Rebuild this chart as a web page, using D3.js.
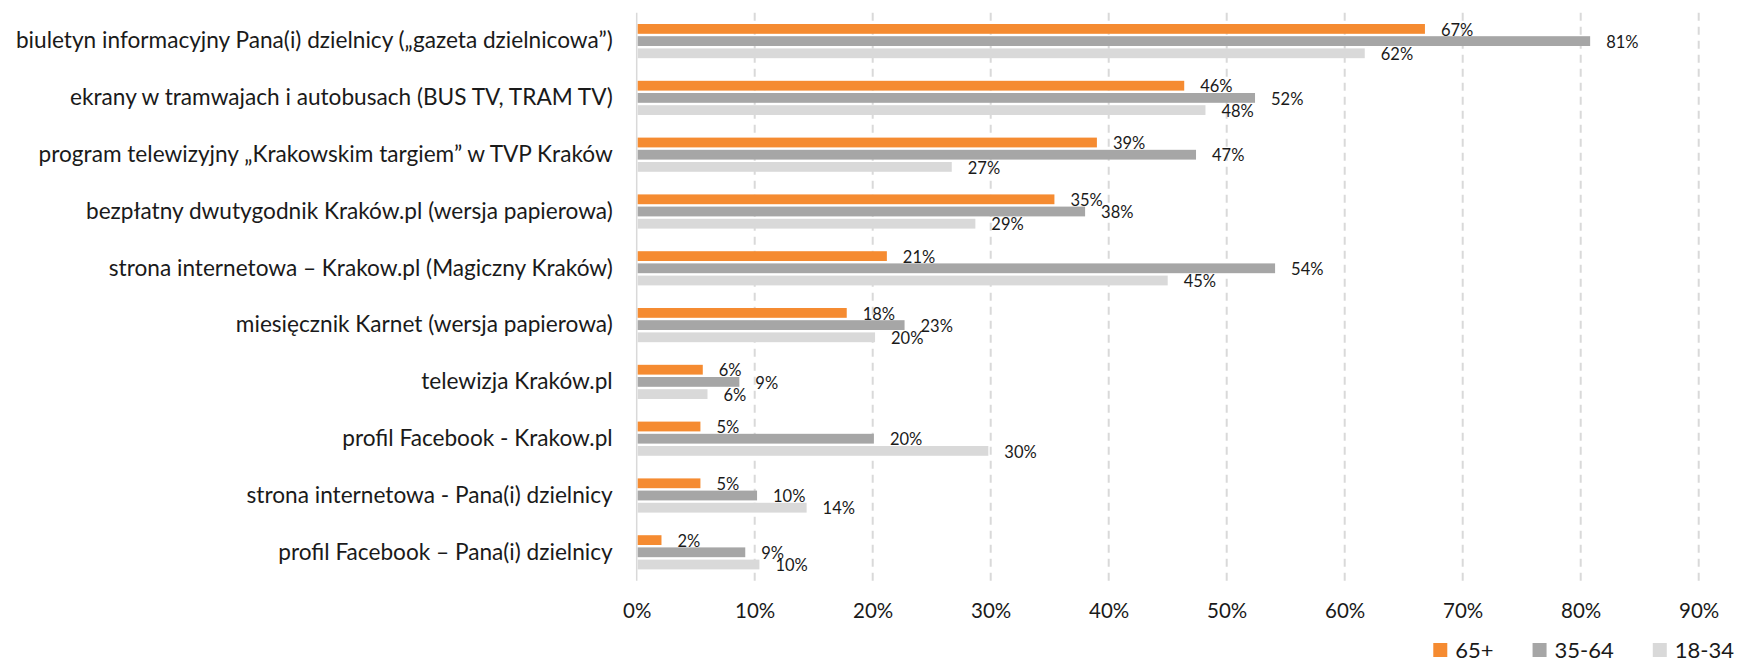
<!DOCTYPE html>
<html>
<head>
<meta charset="utf-8">
<script src="https://cdn.jsdelivr.net/npm/d3@7"></script>
<style>
  html, body { margin: 0; padding: 0; background: #ffffff; }
  svg { display: block; }
  text { font-family: Lato, "Open Sans", "Noto Sans", sans-serif; fill: #1a1a1a; }
</style>
</head>
<body>
<svg id="chart" width="1742" height="667"></svg>
<script>
// ---- data ----
const categories = [
  "biuletyn informacyjny Pana(i) dzielnicy („gazeta dzielnicowa”)",
  "ekrany w tramwajach i autobusach (BUS TV, TRAM TV)",
  "program telewizyjny „Krakowskim targiem” w TVP Kraków",
  "bezpłatny dwutygodnik Kraków.pl (wersja papierowa)",
  "strona internetowa – Krakow.pl (Magiczny Kraków)",
  "miesięcznik Karnet (wersja papierowa)",
  "telewizja Kraków.pl",
  "profil Facebook - Krakow.pl",
  "strona internetowa - Pana(i) dzielnicy",
  "profil Facebook – Pana(i) dzielnicy"
];
const seriesNames = ["65+", "35-64", "18-34"];
const values65plus = [66.8, 46.4, 39.0, 35.4, 21.2, 17.8, 5.6, 5.4, 5.4, 2.1];
const values35to64 = [80.8, 52.4, 47.4, 38.0, 54.1, 22.7, 8.7, 20.1, 10.2, 9.2];
const values18to34 = [61.7, 48.2, 26.7, 28.7, 45.0, 20.2, 6.0, 29.8, 14.4, 10.4];
const tickValues = [0, 10, 20, 30, 40, 50, 60, 70, 80, 90];
const colors = ["#F58B31", "#A6A6A6", "#D9D9D9"];

const seriesValues = [values65plus, values35to64, values18to34];

// ---- layout ----
const svg = d3.select("#chart");
const plotLeft = 636.7, plotRight = 1698.7, plotTop = 12.7, plotBottom = 580.7;

const x = d3.scaleLinear().domain([0, 90]).range([plotLeft, plotRight]);
const y0 = d3.scaleBand().domain(categories).range([plotTop, plotBottom])
  .paddingInner(0.356).paddingOuter(0.178);
const y1 = d3.scaleBand().domain(seriesNames).range([0, y0.bandwidth()]);

// gridlines
svg.append("g").selectAll("line")
  .data(tickValues.filter(t => t > 0))
  .join("line")
  .attr("x1", d => x(d)).attr("x2", d => x(d))
  .attr("y1", plotTop).attr("y2", plotBottom)
  .attr("stroke", "#D9D9D9").attr("stroke-width", 2)
  .attr("stroke-dasharray", "8,6");

// vertical axis line
svg.append("line")
  .attr("x1", x(0)).attr("x2", x(0))
  .attr("y1", plotTop).attr("y2", plotBottom)
  .attr("stroke", "#D9D9D9").attr("stroke-width", 1.5);

// bars
const rows = categories.map((c, i) => ({
  cat: c,
  vals: seriesNames.map((s, j) => ({ s, j, v: seriesValues[j][i] }))
}));

const groups = svg.append("g").selectAll("g")
  .data(rows).join("g")
  .attr("transform", d => `translate(0,${y0(d.cat)})`);

groups.selectAll("rect")
  .data(d => d.vals).join("rect")
  .attr("x", x(0) + 1)
  .attr("y", d => y1(d.s) + 1.2)
  .attr("width", d => x(d.v) - x(0) - 1)
  .attr("height", y1.bandwidth() - 2.4)
  .attr("fill", d => colors[d.j]);

groups.selectAll("text.lbl")
  .data(d => d.vals).join("text")
  .attr("class", "lbl")
  .attr("x", d => x(d.v) + 16)
  .attr("y", d => y1(d.s) + y1.bandwidth() / 2 + 1)
  .attr("dy", "0.35em")
  .style("font-size", "16.5px")
  .text(d => Math.round(d.v) + "%");

// category axis
const yAxis = svg.append("g")
  .attr("transform", `translate(${x(0)},0)`)
  .call(d3.axisLeft(y0).tickSize(0).tickPadding(24));
yAxis.select(".domain").remove();
const catTexts = yAxis.selectAll("text")
  .style("font-family", "Lato, 'Open Sans', sans-serif")
  .style("font-size", "20px")
  .attr("fill", "#1a1a1a");
// fit longest label to the reference width
let maxW = 0;
catTexts.each(function() { maxW = Math.max(maxW, this.getComputedTextLength()); });
const catSize = 20 * 597 / maxW;
catTexts.style("font-size", catSize + "px");

// value axis
const xAxis = svg.append("g")
  .attr("transform", `translate(0,${plotBottom})`)
  .call(d3.axisBottom(x).tickValues(tickValues).tickSize(0).tickFormat(d => d + "%"));
xAxis.select(".domain").remove();
xAxis.selectAll("text")
  .attr("y", 30.5).attr("dy", "0.35em")
  .style("font-family", "Lato, 'Open Sans', sans-serif")
  .style("font-size", "20.5px")
  .attr("fill", "#1a1a1a");

// legend
const legend = svg.append("g");
const items = legend.selectAll("g").data(seriesNames).join("g");
items.append("rect")
  .attr("width", 14).attr("height", 14)
  .attr("y", 643)
  .attr("fill", (d, i) => colors[i]);
items.append("text")
  .attr("x", 22).attr("y", 650).attr("dy", "0.35em")
  .style("font-size", "22px")
  .text(d => d);
let cx = 0;
const widths = [];
items.each(function() { widths.push(22 + d3.select(this).select("text").node().getComputedTextLength()); });
const total = d3.sum(widths) + 39 * (widths.length - 1);
let start = 1734 - total;
items.attr("transform", (d, i) => {
  const t = `translate(${start},0)`;
  start += widths[i] + 39;
  return t;
});
</script>
</body>
</html>
